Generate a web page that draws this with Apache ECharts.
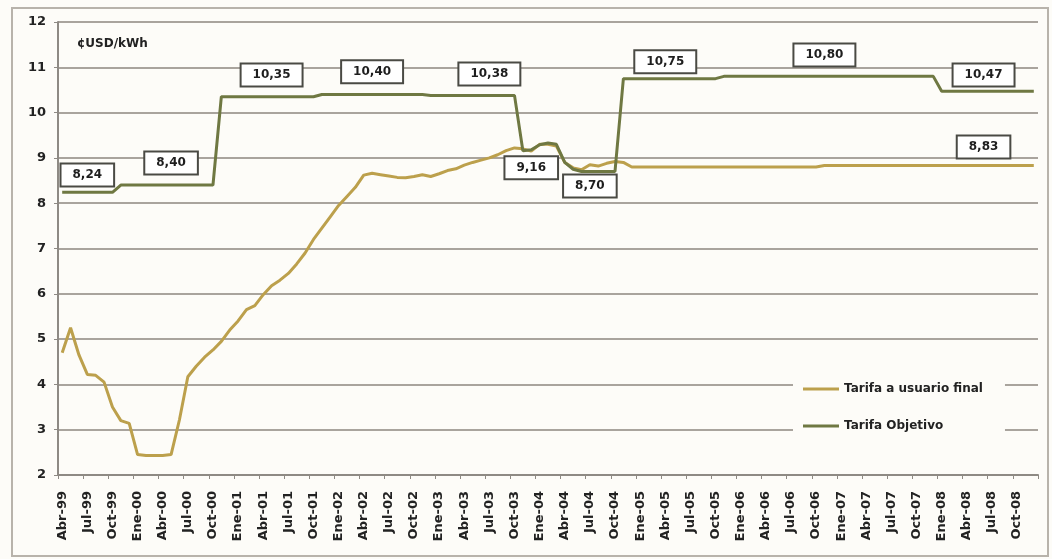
<!DOCTYPE html>
<html>
<head>
<meta charset="utf-8">
<script src="https://cdn.jsdelivr.net/npm/echarts@6/dist/echarts.min.js"></script>
<style>
html,body{margin:0;padding:0;background:#fdfcf8;}
#chart{width:1052px;height:559px;}
</style>
</head>
<body>
<div id="chart"></div>
<script>
// ---- data ----
const monthNames = ['Ene','Feb','Mar','Abr','May','Jun','Jul','Ago','Sep','Oct','Nov','Dic'];
const startYear = 1999, startMonth = 3;   // Abr-99
const endYear = 2008, endMonth = 11;      // Dic-08

const seriesNames = ['Tarifa a usuario final', 'Tarifa Objetivo'];

const tarifaUsuario = [
  4.70, 5.25, 4.65, 4.22, 4.20, 4.05, 3.50, 3.20, 3.14, 2.45,
  2.43, 2.43, 2.43, 2.45, 3.22, 4.17, 4.40, 4.60, 4.76, 4.95,
  5.20, 5.40, 5.65, 5.74, 5.98, 6.18, 6.30, 6.45, 6.66, 6.90,
  7.20, 7.45, 7.70, 7.95, 8.15, 8.35, 8.62, 8.66, 8.63, 8.60,
  8.57, 8.56, 8.59, 8.63, 8.59, 8.65, 8.72, 8.76, 8.84, 8.90,
  8.95, 9.00, 9.07, 9.16, 9.22, 9.20, 9.15, 9.30, 9.30, 9.26,
  8.90, 8.78, 8.74, 8.85, 8.82, 8.88, 8.92, 8.90, 8.80, 8.80,
  8.80, 8.80, 8.80, 8.80, 8.80, 8.80, 8.80, 8.80, 8.80, 8.80,
  8.80, 8.80, 8.80, 8.80, 8.80, 8.80, 8.80, 8.80, 8.80, 8.80,
  8.80, 8.83, 8.83, 8.83, 8.83, 8.83, 8.83, 8.83, 8.83, 8.83,
  8.83, 8.83, 8.83, 8.83, 8.83, 8.83, 8.83, 8.83, 8.83, 8.83,
  8.83, 8.83, 8.83, 8.83, 8.83, 8.83, 8.83
];

const tarifaObjetivo = [
  8.24, 8.24, 8.24, 8.24, 8.24, 8.24, 8.24,
  8.40, 8.40, 8.40, 8.40, 8.40, 8.40, 8.40, 8.40, 8.40, 8.40, 8.40, 8.40,
  10.35, 10.35, 10.35, 10.35, 10.35, 10.35, 10.35, 10.35, 10.35, 10.35, 10.35, 10.35,
  10.40, 10.40, 10.40, 10.40, 10.40, 10.40, 10.40, 10.40, 10.40, 10.40, 10.40, 10.40, 10.40,
  10.38, 10.38, 10.38, 10.38, 10.38, 10.38, 10.38, 10.38, 10.38, 10.38, 10.38,
  9.16, 9.18, 9.29, 9.33, 9.30, 8.90, 8.75,
  8.70, 8.70, 8.70, 8.70, 8.70,
  10.75, 10.75, 10.75, 10.75, 10.75, 10.75, 10.75, 10.75, 10.75, 10.75, 10.75, 10.75,
  10.80, 10.80, 10.80, 10.80, 10.80, 10.80, 10.80, 10.80, 10.80, 10.80, 10.80, 10.80, 10.80,
  10.80, 10.80, 10.80, 10.80, 10.80, 10.80, 10.80, 10.80, 10.80, 10.80, 10.80, 10.80, 10.80,
  10.47, 10.47, 10.47, 10.47, 10.47, 10.47, 10.47, 10.47, 10.47, 10.47, 10.47, 10.47
];

// annotation boxes: text, anchor category index, anchor value
const annotTexts = ['8,24', '8,40', '10,35', '10,40', '10,38', '9,16', '8,70', '10,75', '10,80', '10,47', '8,83'];
const annotIdx   = [3, 13, 25, 37, 51, 56, 63, 72, 91, 110, 110];
const annotVal   = [8.62, 8.89, 10.83, 10.90, 10.85, 8.78, 8.38, 11.12, 11.27, 10.83, 9.24];

const yMin = 2, yMax = 12, yStep = 1;
const unitLabel = '¢USD/kWh';

// ---- build ----
const categories = [];
for (let y = startYear, m = startMonth; y < endYear || (y === endYear && m <= endMonth); ) {
  categories.push(monthNames[m] + '-' + String(y % 100).padStart(2, '0'));
  m++; if (m > 11) { m = 0; y++; }
}

const FONT = 'DejaVu Sans';
const chart = echarts.init(document.getElementById('chart'), null, {renderer: 'canvas'});
const notes = annotTexts.map((t, i) => [annotIdx[i], annotVal[i], t]);

chart.setOption({
  backgroundColor: '#fdfcf8',
  animation: false,
  textStyle: {fontFamily: FONT},
  grid: {left: 58, right: 14, top: 22, bottom: 84},
  graphic: [
    {type: 'rect', z: -1, shape: {x: 12, y: 8, width: 1036, height: 548},
     style: {fill: 'none', stroke: '#b8b3ab', lineWidth: 2}},
    {type: 'text', left: 77, top: 38, z: 10,
     style: {text: unitLabel, font: 'bold 12px "DejaVu Sans"', fill: '#222'}}
  ],
  legend: {
    data: seriesNames,
    orient: 'vertical',
    left: 793, top: 373,
    padding: [10, 22, 8, 10],
    itemGap: 25,
    icon: 'rect',
    itemWidth: 36, itemHeight: 3,
    backgroundColor: '#fdfcf8',
    textStyle: {fontFamily: FONT, fontWeight: 'bold', fontSize: 12, color: '#222'}
  },
  xAxis: {
    type: 'category',
    data: categories,
    boundaryGap: true,
    axisLine: {lineStyle: {color: '#8e8a84', width: 2}},
    axisTick: {show: true, interval: 2, length: 4, lineStyle: {color: '#8e8a84'}},
    axisLabel: {interval: 2, rotate: 90, margin: 16, fontFamily: FONT, fontWeight: 'bold',
                fontSize: 13, color: '#222'},
    splitLine: {show: false}
  },
  yAxis: {
    type: 'value',
    min: yMin, max: yMax, interval: yStep,
    axisLine: {show: true, lineStyle: {color: '#8e8a84', width: 2}},
    axisTick: {show: true, length: 4, lineStyle: {color: '#8e8a84'}},
    axisLabel: {margin: 12, fontFamily: FONT, fontWeight: 'bold', fontSize: 13, color: '#222'},
    splitLine: {show: true, lineStyle: {color: '#a9a49d', width: 2}}
  },
  series: [
    {
      name: seriesNames[0], type: 'line', data: tarifaUsuario,
      showSymbol: false, symbol: 'none', z: 3,
      color: '#bca04c',
      lineStyle: {color: '#bca04c', width: 3}
    },
    {
      name: seriesNames[1], type: 'line', data: tarifaObjetivo,
      showSymbol: false, symbol: 'none', z: 4,
      color: '#6f7842',
      lineStyle: {color: '#6f7842', width: 3}
    },
    {
      name: 'notas', type: 'scatter', data: notes, z: 10, silent: true,
      symbol: 'rect', symbolSize: 1, itemStyle: {color: 'rgba(0,0,0,0)'},
      label: {
        show: true, position: 'inside', opacity: 1,
        formatter: p => p.data[2],
        fontFamily: FONT, fontWeight: 'bold', fontSize: 12, color: '#1e1e1e',
        textBorderWidth: 0,
        backgroundColor: '#ffffff', borderColor: '#4a4a44', borderWidth: 2,
        padding: [5, 11, 4, 11]
      }
    }
  ]
});
</script>
</body>
</html>
